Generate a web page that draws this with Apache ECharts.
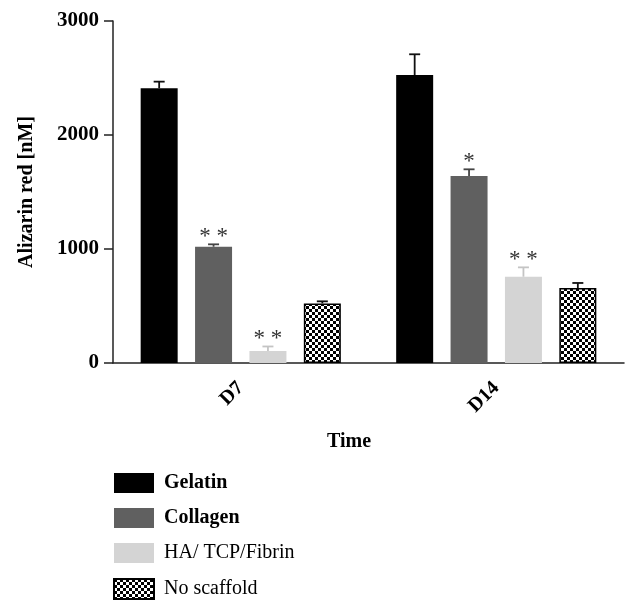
<!DOCTYPE html>
<html><head><meta charset="utf-8">
<script src="https://cdn.jsdelivr.net/npm/echarts@6/dist/echarts.min.js"></script>
<style>html,body{margin:0;padding:0;background:#fff}#c{width:638px;height:611px}</style>
</head><body><div id="c"></div>
<script>
const categories = ['D7', 'D14'];
const seriesNames = ['Gelatin', 'Collagen', 'HA/ TCP/Fibrin', 'No scaffold'];
const gelatin = [2410, 2526];
const gelatinErr = [58, 182];
const collagen = [1020, 1640];
const collagenErr = [21, 59];
const hatcp = [105, 757];
const hatcpErr = [40, 82];
const noScaffold = [523, 658];
const noScaffoldErr = [18, 44];
const gelatinSig = ['', ''];
const collagenSig = ['* *', '*'];
const hatcpSig = ['* *', '* *'];
const noScaffoldSig = ['', ''];
const yTicks = [0, 1000, 2000, 3000];

const FONT = '"Liberation Serif", "DejaVu Serif", serif';
const values = [gelatin, collagen, hatcp, noScaffold];
const errs = [gelatinErr, collagenErr, hatcpErr, noScaffoldErr];
const sigs = [gelatinSig, collagenSig, hatcpSig, noScaffoldSig];

// checkerboard pattern
const cv = document.createElement('canvas');
cv.width = 6; cv.height = 6;
const cx = cv.getContext('2d');
cx.fillStyle = '#fff'; cx.fillRect(0, 0, 6, 6);
cx.fillStyle = '#000'; cx.fillRect(0, 0, 3, 3); cx.fillRect(3, 3, 3, 3);
const checker = { image: cv, repeat: 'repeat' };

const fills = ['#000000', '#606060', '#d4d4d4', checker];
const borders = ['#000000', '#606060', '#d4d4d4', '#000000'];
const errColors = ['#111111', '#444444', '#c4c4c4', '#111111'];
const BAR_W = 37, GAP = 0.47;
const STEP = BAR_W * (1 + GAP);

const series = [];
values.forEach((v, i) => {
  series.push({
    name: seriesNames[i], type: 'bar', data: v,
    barWidth: BAR_W, barGap: (GAP * 100) + '%',
    itemStyle: { color: fills[i], borderColor: borders[i], borderWidth: i === 3 ? 1.5 : 0 },
    emphasis: { disabled: true }, z: 2
  });
});
values.forEach((v, i) => {
  series.push({
    name: 'err' + i, type: 'custom', z: 5, silent: true,
    data: v.map((val, k) => [k, val, val + errs[i][k]]),
    renderItem: function (params, api) {
      const k = api.value(0);
      const base = api.coord([k, api.value(1)]);
      const top = api.coord([k, api.value(2)]);
      const x = base[0] + (i - 1.5) * STEP;
      const children = [
        { type: 'line', shape: { x1: x, y1: base[1], x2: x, y2: top[1] }, style: { stroke: errColors[i], lineWidth: 1.8 } },
        { type: 'line', shape: { x1: x - 5.5, y1: top[1], x2: x + 5.5, y2: top[1] }, style: { stroke: errColors[i], lineWidth: 1.8 } }
      ];
      const s = sigs[i][params.dataIndex];
      if (s) {
        children.push({ type: 'text', x: x, y: top[1] + 4,
          style: { text: s, fill: '#333', font: '23px ' + FONT, align: 'center', verticalAlign: 'bottom' } });
      }
      return { type: 'group', children: children };
    }
  });
});

const chart = echarts.init(document.getElementById('c'), null, { renderer: 'canvas' });
chart.setOption({
  animation: false,
  backgroundColor: '#fff',
  grid: { left: 113, right: 14, top: 21, bottom: 248, containLabel: false },
  xAxis: {
    type: 'category', data: categories,
    axisLine: { lineStyle: { color: '#222', width: 1.5 } },
    axisTick: { alignWithLabel: true, length: 9, lineStyle: { color: '#222', width: 1.5 } },
    axisLabel: { rotate: 45, margin: 22, color: '#000', fontFamily: FONT, fontWeight: 'bold', fontSize: 20 }
  },
  yAxis: {
    type: 'value', min: yTicks[0], max: yTicks[yTicks.length - 1], interval: 1000,
    name: 'Alizarin red [nM]', nameLocation: 'middle', nameGap: 76,
    nameTextStyle: { color: '#000', fontFamily: FONT, fontWeight: 'bold', fontSize: 20 },
    axisLine: { show: true, lineStyle: { color: '#222', width: 1.5 } },
    axisTick: { show: true, length: 9, lineStyle: { color: '#222', width: 1.5 } },
    axisLabel: { margin: 14, color: '#000', fontFamily: FONT, fontWeight: 'bold', fontSize: 21,
      formatter: v => String(v) },
    splitLine: { show: false }
  },
  legend: {
    orient: 'vertical', left: 113, top: 473, padding: 0, itemWidth: 40, itemHeight: 20, itemGap: 15,
    icon: 'rect', selectedMode: false,
    textStyle: { color: '#000', fontFamily: FONT, fontSize: 20, padding: [0, 0, 0, 5] },
    data: [
      { name: seriesNames[0], textStyle: { fontWeight: 'bold' } },
      { name: seriesNames[1], textStyle: { fontWeight: 'bold' } },
      { name: seriesNames[2] },
      { name: seriesNames[3] }
    ]
  },
  graphic: [{ type: 'text', left: 327, top: 432,
    style: { text: 'Time', fill: '#000', font: 'bold 20px ' + FONT } }],
  series: series
});
</script></body></html>
